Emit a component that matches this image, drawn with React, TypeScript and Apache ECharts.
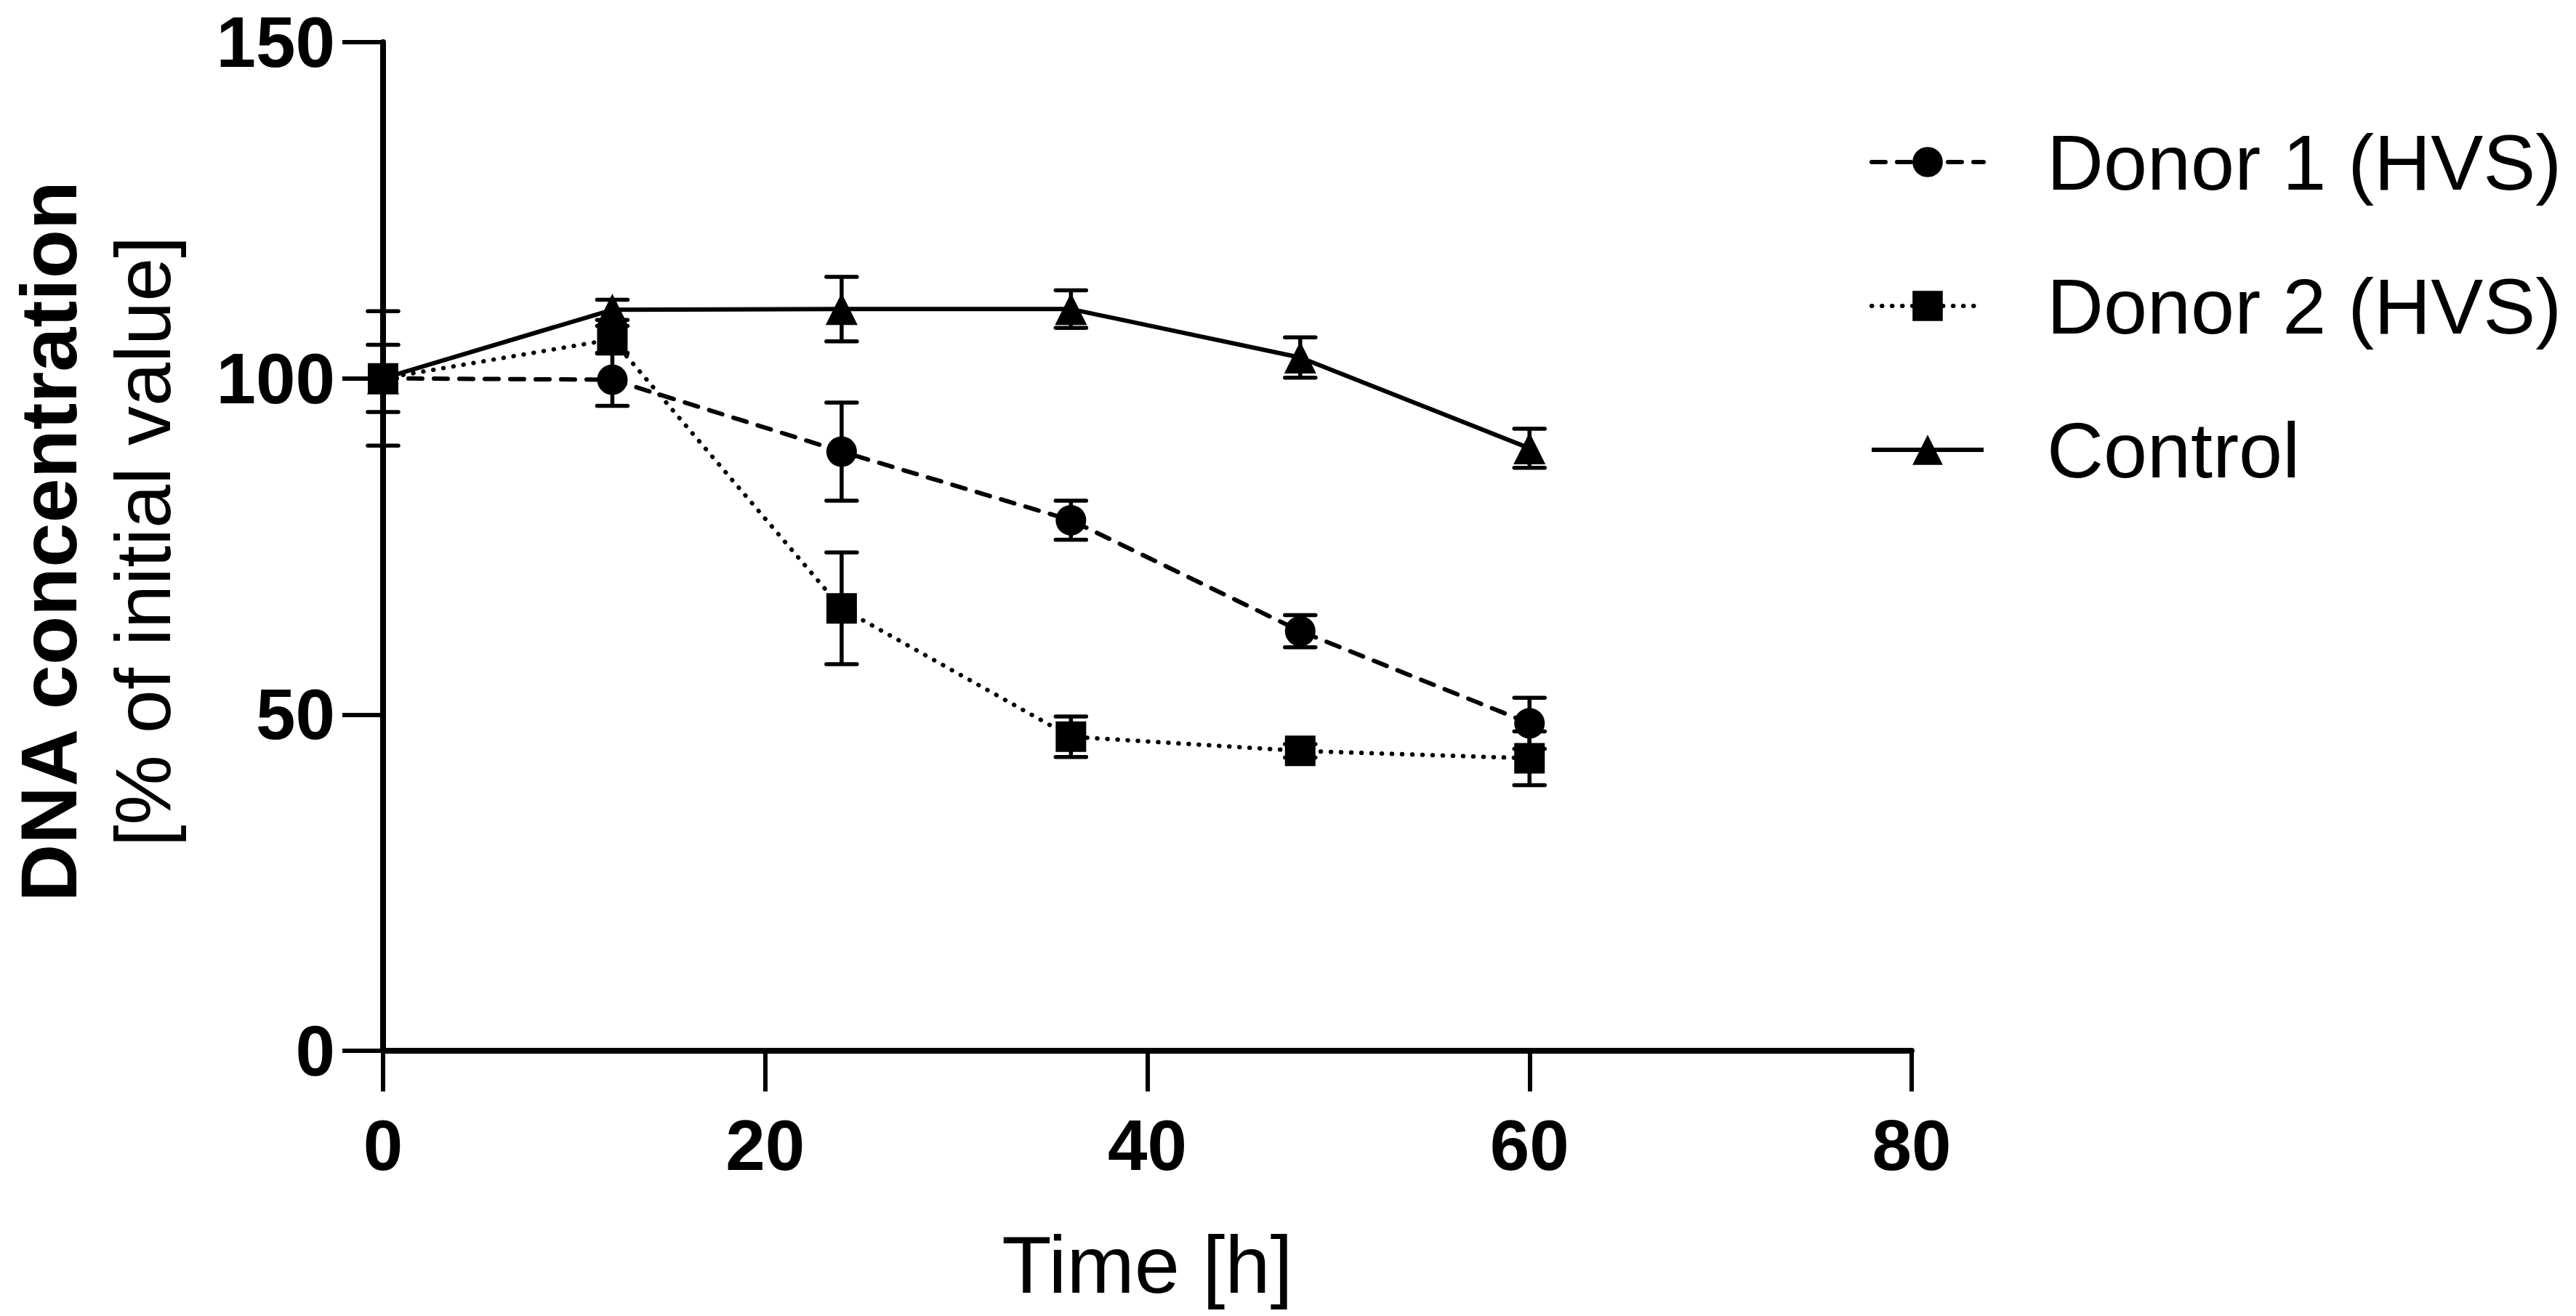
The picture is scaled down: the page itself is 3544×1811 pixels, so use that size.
import React, { useEffect, useRef } from "react";
import * as echarts from "echarts";

const times = [0, 12, 24, 36, 48, 60];
const donor1 = [100, 99.8, 89.1, 78.9, 62.4, 48.7];
const donor1Err = [5, 3.9, 7.3, 2.9, 2.4, 3.8];
const donor2 = [100, 105.8, 65.8, 46.7, 44.6, 43.5];
const donor2Err = [10, 2, 8.3, 3.0, 1.0, 4.0];
const control = [100, 110.2, 110.3, 110.3, 103.1, 89.6];
const controlErr = [0, 1.5, 4.8, 2.8, 3.0, 2.9];

const xTicks = [0, 20, 40, 60, 80];
const yTicks = [0, 50, 100, 150];

const seriesNames = ["Donor 1 (HVS)", "Donor 2 (HVS)", "Control"];
const xTitle = "Time [h]";
const yTitleBold = "DNA concentration";
const yTitleRegular = "[% of initial value]";

const FONT = "'Liberation Sans', Arial, Helvetica, sans-serif";

function pairs(ys: number[]) {
  return times.map((t, i) => [t, ys[i]]);
}
function errData(ys: number[], errs: number[]) {
  return times.map((t, i) => [t, ys[i] + errs[i], ys[i] - errs[i]]);
}

function errorSeries(name: string, ys: number[], errs: number[]) {
  return {
    type: "custom",
    name,
    z: 1,
    data: errData(ys, errs),
    renderItem: (params: any, api: any) => {
      const x = api.value(0);
      const hi = api.value(1);
      const lo = api.value(2);
      if (hi === lo) return { type: "group", children: [] };
      const pHi = api.coord([x, hi]);
      const pLo = api.coord([x, lo]);
      const hw = 21;
      const st = { stroke: "#000", lineWidth: 5.5, lineCap: "round" };
      return {
        type: "group",
        children: [
          { type: "line", shape: { x1: pHi[0], y1: pHi[1], x2: pLo[0], y2: pLo[1] }, style: { stroke: "#000", lineWidth: 5.5 } },
          { type: "line", shape: { x1: pHi[0] - hw, y1: pHi[1], x2: pHi[0] + hw, y2: pHi[1] }, style: st },
          { type: "line", shape: { x1: pLo[0] - hw, y1: pLo[1], x2: pLo[0] + hw, y2: pLo[1] }, style: st },
        ],
      };
    },
  };
}

export default function App() {
  const ref = useRef<HTMLDivElement>(null);
  useEffect(() => {
    document.body.style.margin = "0";
    const chart = echarts.init(ref.current!, null, { renderer: "svg" });
    const axisLabel = {
      color: "#000",
      fontFamily: FONT,
      fontWeight: "bold",
      fontSize: 98,
      lineHeight: 80,
    };
    chart.setOption({
      animation: false,
      backgroundColor: "#fff",
      grid: { left: 527, right: 914, top: 58, bottom: 365, containLabel: false },
      xAxis: {
        type: "value",
        min: 0,
        max: 80,
        interval: 20,
        name: xTitle,
        nameLocation: "middle",
        nameGap: 238,
        nameTextStyle: { color: "#000", fontFamily: FONT, fontSize: 112 },
        axisLine: { onZero: false, lineStyle: { color: "#000", width: 8 } },
        axisTick: { show: true, length: 56, lineStyle: { color: "#000", width: 6 } },
        axisLabel: { ...axisLabel, margin: 90, formatter: (v: number) => (xTicks.includes(v) ? String(v) : "") },
        splitLine: { show: false },
      },
      yAxis: {
        type: "value",
        min: 0,
        max: 150,
        interval: 50,
        axisLine: { show: true, onZero: false, lineStyle: { color: "#000", width: 8 } },
        axisTick: { show: true, length: 56, lineStyle: { color: "#000", width: 6 } },
        axisLabel: { ...axisLabel, margin: 66, formatter: (v: number) => (yTicks.includes(v) ? String(v) : "") },
        splitLine: { show: false },
      },
      legend: {
        orient: "vertical",
        left: 2567,
        top: 164,
        itemWidth: 154,
        itemHeight: 52,
        itemGap: 90,
        data: seriesNames,
        lineStyle: { width: 6 },
        textStyle: { color: "#000", fontFamily: FONT, fontSize: 108, lineHeight: 106, padding: [0, 0, 0, 82] },
      },
      graphic: [
        {
          type: "text",
          x: 66,
          y: 745,
          rotation: Math.PI / 2,
          style: {
            text: yTitleBold,
            font: `bold 110px ${FONT}`,
            lineHeight: 88,
            fill: "#000",
            textAlign: "center",
            textVerticalAlign: "middle",
          },
        },
        {
          type: "text",
          x: 196,
          y: 745,
          rotation: Math.PI / 2,
          style: {
            text: yTitleRegular,
            font: `108px ${FONT}`,
            lineHeight: 108,
            fill: "#000",
            textAlign: "center",
            textVerticalAlign: "middle",
          },
        },
      ],
      series: [
        errorSeries("err1", donor1, donor1Err),
        errorSeries("err2", donor2, donor2Err),
        errorSeries("err3", control, controlErr),
        {
          type: "line",
          name: seriesNames[0],
          data: pairs(donor1),
          symbol: "circle",
          symbolSize: 42,
          z: 3,
          itemStyle: { color: "#000" },
          lineStyle: { color: "#000", width: 6, type: [19, 16], cap: "round" },
        },
        {
          type: "line",
          name: seriesNames[1],
          data: pairs(donor2),
          symbol: "rect",
          symbolSize: 42,
          z: 3,
          itemStyle: { color: "#000" },
          lineStyle: { color: "#000", width: 6, type: [0.5, 13.5], cap: "round" },
        },
        {
          type: "line",
          name: seriesNames[2],
          data: pairs(control),
          symbol: "triangle",
          symbolSize: 44,
          z: 3,
          itemStyle: { color: "#000" },
          lineStyle: { color: "#000", width: 6, type: "solid" },
        },
      ],
    });
    return () => chart.dispose();
  }, []);
  return <div ref={ref} style={{ position: "fixed", left: 0, top: 0, width: 3544, height: 1811 }} />;
}
